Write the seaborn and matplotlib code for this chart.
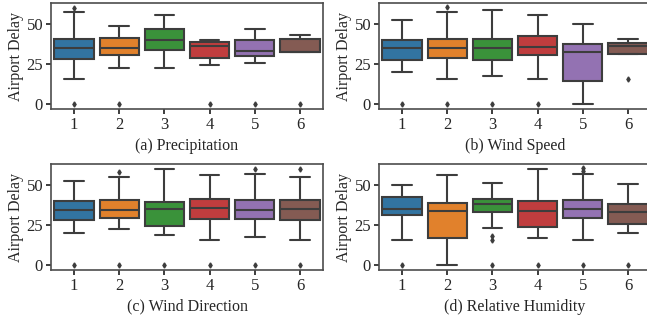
import matplotlib
matplotlib.use("Agg")
import matplotlib.pyplot as plt
import seaborn as sns
import pandas as pd

# ---- data (samples per level 1..6) ----
levels = ["1", "2", "3", "4", "5", "6"]

precipitation = [
    [0, 16, 28.3, 32, 35.2, 38, 40.6, 57.5, 60],
    [0, 22.5, 30.8, 33, 35.2, 38, 41.5, 48.5, 48.5],
    [22.5, 28, 33.5, 37, 40.2, 44, 47, 51, 55.4],
    [0, 24.2, 28.75, 33, 36.5, 37.5, 38.75, 40.2, 40.2],
    [0, 26, 29.8, 31, 32.9, 37, 40.2, 46.9, 46.9],
    [0, 32.3, 32.3, 32.5, 32.7, 36, 40.8, 42.9, 42.9],
]
wind_speed = [
    [0, 20.2, 27.3, 31, 35.2, 38, 40.2, 52.7, 52.7],
    [0, 16, 29, 32, 35.2, 38, 40.5, 57.3, 60.5],
    [0, 17.3, 27.3, 31, 35.2, 38, 40.6, 58.5, 58.5],
    [0, 16, 30.8, 33, 35.6, 39, 42.5, 55.4, 55.4],
    [0, 7, 14.2, 25, 32.5, 35, 37.7, 44, 50.2],
    [16, 31.5, 31.5, 34, 36, 37, 38.1, 40.8, 40.8],
]
wind_direction = [
    [0, 20.1, 28.2, 31, 34.2, 37, 39.8, 52.7, 52.7],
    [0, 22.4, 29.5, 32, 34.2, 38, 40.5, 55.2, 58],
    [0, 19.1, 24.5, 30, 35.3, 37, 39.2, 50, 60],
    [0, 16, 28.8, 32, 35.5, 38, 41.1, 56.2, 56.2],
    [0, 17.4, 29, 32, 34.4, 38, 40.7, 56.8, 60],
    [0, 16, 28.2, 32, 35.3, 38, 40.5, 55.2, 60],
]
relative_humidity = [
    [0, 16, 31.3, 33, 34.9, 38, 42.3, 50, 50],
    [0, 8, 17.2, 26, 34, 36, 39, 48, 56.2],
    [0, 16, 18, 23.2, 33, 35, 36, 37, 38.2, 39, 40, 40.5, 41.1, 45, 48, 50, 51.5],
    [0, 17, 24, 30, 34, 37, 39.8, 50, 60],
    [0, 16, 25, 29.7, 32, 34, 35.3, 37, 39, 40.7, 56.8, 59, 60.5],
    [0, 20.1, 25.9, 30, 33.4, 36, 38, 44, 50.6],
]
panel_titles = ["(a) Precipitation", "(b) Wind Speed",
                "(c) Wind Direction", "(d) Relative Humidity"]
y_label = "Airport Delay"
y_ticks = [0, 25, 50]


def to_frame(groups):
    rows = []
    for lvl, vals in zip(levels, groups):
        for v in vals:
            rows.append({"level": lvl, "delay": v})
    return pd.DataFrame(rows)


sns.set_theme(style="ticks", rc={
    "axes.edgecolor": "0.3",
    "axes.linewidth": 1.2,
    "xtick.major.size": 3.5,
    "ytick.major.size": 3.5,
    "xtick.color": "0.15",
    "ytick.color": "0.15",
})
plt.rcParams["font.family"] = ["Liberation Serif", "DejaVu Serif"]
plt.rcParams["font.size"] = 11

LINE = "#3d3d3d"

fig = plt.figure(figsize=(6.47, 3.2), dpi=100)
W, H = 647.0, 320.0
ax_w = 271.2 / W
ax_h = 106.0 / H
positions = [
    (51.4 / W, 1 - 109.1 / H),
    (379.4 / W, 1 - 109.1 / H),
    (51.4 / W, 1 - 270.1 / H),
    (379.4 / W, 1 - 270.1 / H),
]
datasets = [precipitation, wind_speed, wind_direction, relative_humidity]

for (l, b), groups, title in zip(positions, datasets, panel_titles):
    ax = fig.add_axes([l, b, ax_w, ax_h])
    df = to_frame(groups)
    sns.boxplot(data=df, x="level", y="delay", hue="level", order=levels,
                hue_order=levels, palette="tab10", legend=False, ax=ax,
                width=0.87, linewidth=1.5, linecolor=LINE,
                saturation=0.75,
                flierprops={"marker": "d", "markerfacecolor": LINE,
                            "markeredgecolor": LINE, "markersize": 2.6})
    ax.set_ylim(-3, 63)
    ax.set_yticks(y_ticks)
    ax.set_xlabel(title, fontsize=11.5, labelpad=3)
    ax.set_ylabel(y_label, fontsize=11.5, labelpad=2)
    ax.tick_params(labelsize=12, pad=2.5)
    for s in ax.spines.values():
        s.set_visible(True)

fig.savefig("out.png", dpi=100)
